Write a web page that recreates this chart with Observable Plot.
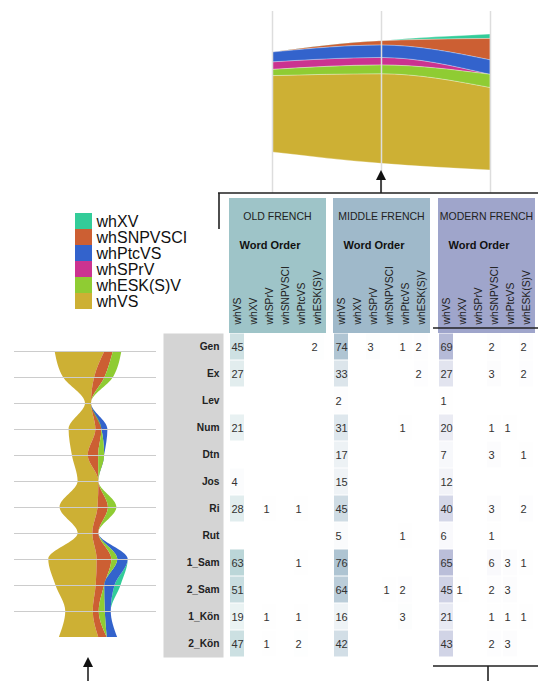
<!DOCTYPE html>
<html><head><meta charset="utf-8">
<script src="https://cdn.jsdelivr.net/npm/d3@7"></script>
<script src="https://cdn.jsdelivr.net/npm/@observablehq/plot@0.6"></script>
<style>
body{margin:0;background:#fff;font-family:"Liberation Sans",Arial,sans-serif;}
#root{position:relative;width:538px;height:681px;overflow:hidden;background:#fff;}
.layer{position:absolute;}
</style></head><body><div id="root"></div>
<script>
// ---------- data ----------
const books = ["Gen","Ex","Lev","Num","Dtn","Jos","Ri","Rut","1_Sam","2_Sam","1_Kön","2_Kön"];
const orders = ["whVS","whXV","whSPrV","whSNPVSCI","whPtcVS","whESK(S)V"];
const periods = ["OLD FRENCH","MIDDLE FRENCH","MODERN FRENCH"];
// rows = books, columns = orders
const oldFrench = [
  [45,0,0,0,0,2],[27,0,0,0,0,0],[0,0,0,0,0,0],[21,0,0,0,0,0],[0,0,0,0,0,0],[4,0,0,0,0,0],
  [28,0,1,0,1,0],[0,0,0,0,0,0],[63,0,0,0,1,0],[51,0,0,0,0,0],[19,0,1,0,1,0],[47,0,1,0,2,0]
];
const middleFrench = [
  [74,0,3,0,1,2],[33,0,0,0,0,2],[2,0,0,0,0,0],[31,0,0,0,1,0],[17,0,0,0,0,0],[15,0,0,0,0,0],
  [45,0,0,0,0,0],[5,0,0,0,1,0],[76,0,0,0,0,0],[64,0,0,1,2,0],[16,0,0,0,3,0],[42,0,0,0,0,0]
];
const modernFrench = [
  [69,0,0,2,0,2],[27,0,0,3,0,2],[1,0,0,0,0,0],[20,0,0,1,1,0],[7,0,0,3,0,1],[12,0,0,0,0,0],
  [40,0,0,3,0,2],[6,0,0,1,0,0],[65,0,0,6,3,1],[45,1,0,2,3,0],[21,0,0,1,1,1],[43,0,0,2,3,0]
];
const legendOrder = ["whXV","whSNPVSCI","whPtcVS","whSPrV","whESK(S)V","whVS"];
const topStackOrder = ["whVS","whESK(S)V","whSPrV","whPtcVS","whSNPVSCI","whXV"];
const leftStackOrder = ["whVS","whSNPVSCI","whSPrV","whESK(S)V","whPtcVS","whXV"];

// ---------- styles / layout ----------
const palette = {"whVS":"#cdb034","whXV":"#33cc99","whSPrV":"#cb3390","whSNPVSCI":"#cc5f33","whPtcVS":"#3363cc","whESK(S)V":"#8fcc33"};
const headerColors = ["#9ec4c8","#9fb9ca","#9fa5cb"];
const FONT = "Liberation Sans, Arial, sans-serif";
const panelLeft = [229, 333, 438], panelW = 97, headTop = 198, tableTop = 333, tableBottom = 657;
const colorScale = {domain: orders, range: orders.map(o => palette[o])};
const baseStyle = {background: "none", overflow: "visible", fontFamily: FONT};

const matrices = [oldFrench, middleFrench, modernFrench];
const table = periods.flatMap((p, pi) => books.flatMap((b, bi) => orders.map((o, oi) => ({period: p, book: b, order: o, count: matrices[pi][bi][oi]}))));

const root = document.getElementById("root");
function place(node, left, top, w, h) {
  const d = document.createElement("div");
  d.className = "layer";
  d.style.left = left + "px"; d.style.top = top + "px";
  d.style.width = w + "px"; d.style.height = h + "px";
  d.appendChild(node); root.appendChild(d); return node;
}
const NS = "http://www.w3.org/2000/svg";
function svgEl(tag, attrs, parent) {
  const e = document.createElementNS(NS, tag);
  for (const k in attrs) e.setAttribute(k, attrs[k]);
  if (parent) parent.appendChild(e);
  return e;
}

// ---------- header boxes (under layer) ----------
const under = svgEl("svg", {width: 538, height: 681});
periods.forEach((p, pi) => {
  const x0 = panelLeft[pi];
  svgEl("rect", {x: x0, y: headTop, width: panelW, height: tableTop - headTop, fill: headerColors[pi]}, under);
  const t = svgEl("text", {x: x0 + panelW / 2, y: 220, "text-anchor": "middle", "font-size": 10.5, fill: "#222", "font-family": FONT}, under);
  t.textContent = p;
  const w = svgEl("text", {x: x0 + 10.5, y: 248.5, "font-size": 11, "font-weight": "bold", fill: "#111", "font-family": FONT}, under);
  w.textContent = "Word Order";
});
place(under, 0, 0, 538, 681);

// ---------- top stream: totals per period ----------
const topData = periods.flatMap((p, pi) => orders.map((o, oi) => {
  const total = d3.sum(matrices[pi], r => r[oi]);
  return {period: p, order: o, total, v: Math.sqrt(total)};
}));
const maxTop = d3.max(periods, p => d3.sum(topData.filter(d => d.period === p), d => d.v));
const kTop = 4.37, topT = 11, topB = 193;
const cTop = maxTop / 2, halfTop = (topB - topT) / 2 / kTop;
const topChart = Plot.plot({
  width: 538, height: 200, marginLeft: 272, marginRight: 48, marginTop: topT, marginBottom: 200 - topB,
  style: baseStyle,
  x: {type: "point", domain: periods, padding: 0, axis: null},
  y: {domain: [cTop - halfTop, cTop + halfTop], axis: null},
  color: colorScale,
  marks: [
    Plot.areaY(topData, Plot.stackY({x: "period", y: "v", z: "order", fill: "order", order: topStackOrder, offset: "center", curve: "monotone-x", stroke: "#fff", strokeWidth: 0.6, strokeOpacity: 0.5})),
    Plot.ruleX(periods, {stroke: "#dddddd", strokeWidth: 1.5})
  ]
});
place(topChart, 0, 0, 538, 200);

// ---------- legend ----------
const legendChart = Plot.plot({
  width: 200, height: 320, marginLeft: 75, marginRight: 108, marginTop: 212, marginBottom: 10,
  style: baseStyle,
  x: {type: "band", domain: ["swatch"], padding: 0, axis: null},
  y: {type: "band", domain: legendOrder, padding: 0, axis: null},
  color: colorScale,
  marks: [
    Plot.cell(legendOrder, {x: () => "swatch", y: d => d, fill: d => d}),
    Plot.text(legendOrder, {y: d => d, text: d => d, frameAnchor: "right", textAnchor: "start", dx: 4, fontSize: 16, fill: "#111"})
  ]
});
place(legendChart, 0, 0, 200, 320);

// ---------- left stream: Modern French per book ----------
const leftData = books.flatMap((b, bi) => orders.map((o, oi) => ({book: b, order: o, v: Math.sqrt(modernFrench[bi][oi])})));
const maxLeft = d3.max(books, b => d3.sum(leftData.filter(d => d.book === b), d => d.v));
const kLeft = 6.0, cLeft = maxLeft / 2, leftL = 14, leftR = 156, leftCenter = 88;
const leftChart = Plot.plot({
  width: 165, height: 681, marginLeft: leftL, marginRight: 165 - leftR, marginTop: 346, marginBottom: 681 - 642,
  style: baseStyle,
  y: {type: "point", domain: books, padding: 0, axis: null},
  x: {domain: [cLeft - (leftCenter - leftL) / kLeft, cLeft + (leftR - leftCenter) / kLeft], axis: null},
  color: colorScale,
  marks: [
    Plot.areaX(leftData, Plot.stackX({y: "book", x: "v", z: "order", fill: "order", order: leftStackOrder, offset: "center", curve: "monotone-y"})),
    Plot.ruleY(books.slice(0, -1), {stroke: "#cccccc", strokeWidth: 1.2})
  ]
});
place(leftChart, 0, 0, 165, 681);

// ---------- row labels ----------
const rowChart = Plot.plot({
  width: 60, height: tableBottom - headTop, marginLeft: 0, marginRight: 0, marginTop: tableTop - headTop, marginBottom: 0,
  style: baseStyle,
  y: {type: "band", domain: books, padding: 0, axis: null},
  marks: [
    Plot.frame({fill: "#d4d4d4", stroke: "none"}),
    Plot.text(books, {y: d => d, text: d => d, frameAnchor: "right", dx: -4, fontWeight: "bold", fontSize: 10.2, fill: "#222"})
  ]
});
place(rowChart, 163, headTop, 60, tableBottom - headTop);

// ---------- period panels ----------
periods.forEach((p, pi) => {
  const cells = table.filter(d => d.period === p && d.count > 0);
  const chart = Plot.plot({
    width: panelW, height: tableBottom - headTop, marginLeft: 0, marginRight: 0, marginTop: tableTop - headTop, marginBottom: 0,
    style: baseStyle,
    x: {type: "band", domain: orders, paddingInner: 0.1, paddingOuter: 0.05},
    y: {type: "band", domain: books, padding: 0, axis: null},
    opacity: {domain: [0, 90], range: [0, 1], clamp: true},
    marks: [
      Plot.cell(cells, {x: "order", y: "book", fill: headerColors[pi], fillOpacity: "count", insetTop: 0.5, insetBottom: 0.5}),
      Plot.text(cells, {x: "order", y: "book", text: d => String(d.count), textAnchor: "start", dx: -6, fontSize: 11, fill: "#333"}),
      Plot.axisX({anchor: "top", tickRotate: -90, tickSize: 0, tickPadding: 9, fontSize: 10.3, label: null, fill: "#222"})
    ]
  });
  place(chart, panelLeft[pi], headTop, panelW, tableBottom - headTop);
});

// ---------- annotations (over layer) ----------
const over = svgEl("svg", {width: 538, height: 681});
const ink = {stroke: "#222", "stroke-width": 1.6, fill: "none"};
const ax = topChart.scale("x").apply("MIDDLE FRENCH");
svgEl("path", Object.assign({d: `M218,${topB} H538 M219,${topB} V229`}, ink), over);
svgEl("path", Object.assign({d: `M${ax},${topB} V179`}, ink), over);
svgEl("path", {d: `M${ax - 5},180 L${ax + 5},180 L${ax},170 Z`, fill: "#111"}, over);
svgEl("path", Object.assign({d: `M433,328 H538`}, ink), over);
const bx = panelLeft[2] + panelW / 2 + 1.5;
svgEl("path", Object.assign({d: `M433,666 H538 M${bx},666 V681`}, ink), over);
const lx = leftChart.scale("x").apply(cLeft);
svgEl("path", Object.assign({d: `M${lx},681 V666`}, ink), over);
svgEl("path", {d: `M${lx - 5},667 L${lx + 5},667 L${lx},657 Z`, fill: "#111"}, over);
place(over, 0, 0, 538, 681);
</script></body></html>
